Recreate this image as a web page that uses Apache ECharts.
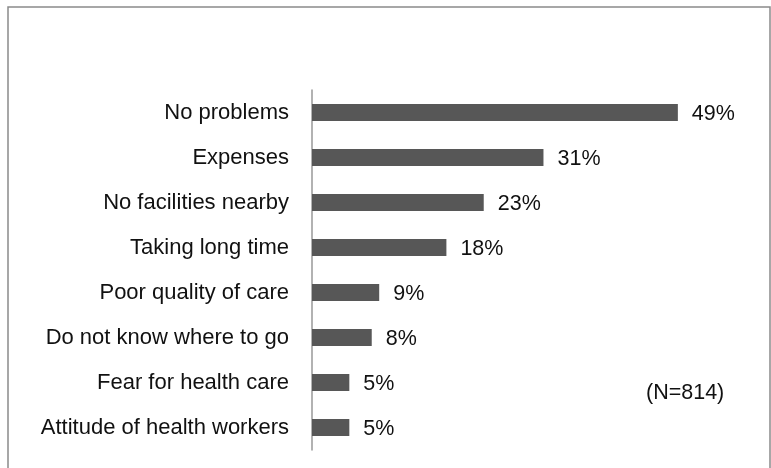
<!DOCTYPE html>
<html>
<head>
<meta charset="utf-8">
<script src="https://cdn.jsdelivr.net/npm/echarts@6/dist/echarts.min.js"></script>
<style>
  html, body { margin: 0; padding: 0; background: #fff; }
  #chart { width: 771px; height: 468px; }
</style>
</head>
<body>
<div id="chart"></div>
<script>
// categories, top to bottom as in the picture
var categories = ['No problems', 'Expenses', 'No facilities nearby', 'Taking long time',
    'Poor quality of care', 'Do not know where to go', 'Fear for health care', 'Attitude of health workers'];
var values = [49, 31, 23, 18, 9, 8, 5, 5];
var note = '(N=814)';

var myChart = echarts.init(document.getElementById('chart'));
var option = {
    backgroundColor: '#fff',
    textStyle: { fontFamily: 'Liberation Sans, Arial, sans-serif' },
    graphic: [{
        type: 'rect',
        shape: { x: 8, y: 7, width: 762, height: 470 },
        style: { fill: 'none', stroke: '#8a8a8a', lineWidth: 1.5 }
    }, {
        type: 'text',
        left: 646, top: 382,
        style: { text: note, fontSize: 21.5, fill: '#111', fontFamily: 'Liberation Sans, Arial, sans-serif' }
    }],
    grid: { left: 312, top: 90, width: 448, height: 360 },
    xAxis: {
        type: 'value', min: 0, max: 60,
        show: false
    },
    yAxis: {
        type: 'category',
        inverse: true,
        data: categories,
        axisLine: { show: true, lineStyle: { color: '#999', width: 1.5 } },
        axisTick: { show: false },
        axisLabel: { color: '#111', fontSize: 22, margin: 23 }
    },
    series: [{
        type: 'bar',
        data: values,
        barWidth: 17,
        itemStyle: { color: '#575757' },
        label: {
            show: true, position: 'right', distance: 14, offset: [0, 2],
            formatter: '{c}%', fontSize: 21.5, color: '#111'
        }
    }]
};
myChart.setOption(option);
</script>
</body>
</html>
